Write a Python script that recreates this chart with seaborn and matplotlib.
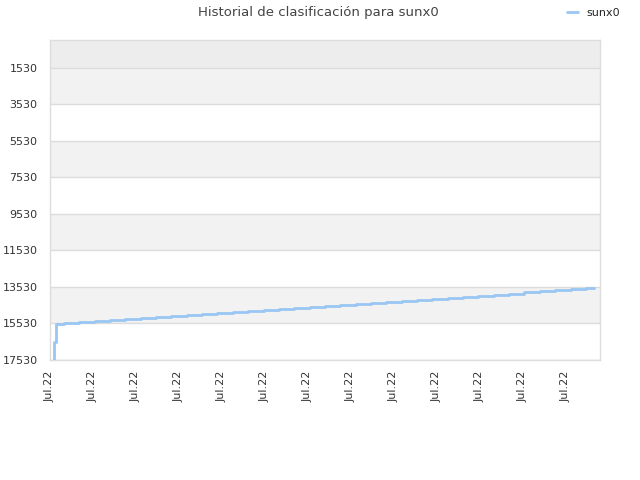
import numpy as np
import pandas as pd
import matplotlib
matplotlib.use("Agg")
import matplotlib.pyplot as plt
import seaborn as sns

# ---- data ----
title = "Historial de clasificación para sunx0"
series_name = "sunx0"
days = [-0.68, -0.62, -0.55, 0, 1, 2, 3, 4, 5, 6, 7, 8, 9, 10, 11, 12, 13, 14,
        15, 16, 17, 18, 19, 20, 21, 22, 23, 24, 25, 26, 27, 28, 29, 30, 31,
        32, 33, 34, 34.55]
ranks = [17530, 16570, 15560, 15504, 15449, 15393, 15337, 15281, 15226, 15170,
         15114, 15058, 15003, 14947, 14891, 14835, 14780, 14724, 14668, 14612,
         14557, 14501, 14445, 14389, 14334, 14278, 14222, 14166, 14111, 14055,
         13999, 13943, 13888, 13832, 13776, 13720, 13665, 13609, 13609]
y_ticks = [1530, 3530, 5530, 7530, 9530, 11530, 13530, 15530, 17530]
x_tick_label = "Jul.22"
n_x_ticks = 13

df = pd.DataFrame({"day": days, "rank": ranks, "name": series_name})

sns.set_theme(style="white")
plt.rcParams['font.family'] = ['DejaVu Sans']

fig = plt.figure(figsize=(6.4, 4.8), dpi=100)
ax = fig.add_axes([50/640, 1 - 360/480, 550/640, 320/480])

# alternating bands
ax.axhspan(0, y_ticks[0], color="#ededed", lw=0, zorder=0)
for i in range(len(y_ticks) - 1):
    c = "#f2f2f2" if i % 2 == 0 else "#ffffff"
    ax.axhspan(y_ticks[i], y_ticks[i + 1], color=c, lw=0, zorder=0)
for t in y_ticks:
    ax.axhline(t, color="#dcdcdc", lw=1, zorder=1)

sns.lineplot(data=df, x="day", y="rank", ax=ax, color="#99c6f2", lw=2,
             drawstyle="steps-post", estimator=None, sort=False, legend=False,
             zorder=3)

ax.set_ylim(17530, 0)
x0, x1 = -0.912, 34.92
ax.set_xlim(x0, x1)
step = (x1 - x0) * 43 / 550
xt = [x0 + step * k for k in range(n_x_ticks)]
ax.set_xticks(xt)
ax.set_xticklabels([x_tick_label] * n_x_ticks, rotation=90, fontsize=8, color="#333333")
ax.set_yticks(y_ticks)
ax.set_yticklabels([str(v) for v in y_ticks], fontsize=8, color="#333333")
ax.tick_params(axis="both", length=0)
ax.tick_params(axis="y", pad=9)
ax.tick_params(axis="x", pad=8)
ax.set_xlabel("")
ax.set_ylabel("")
for s in ax.spines.values():
    s.set_color("#dddddd")
    s.set_linewidth(1)

fig.text(0.497, 0.973, title, ha="center", va="center", fontsize=9.5, color="#444444")

from matplotlib.lines import Line2D
h = [Line2D([0], [0], color="#99c6f2", lw=2)]
fig.legend(h, [series_name], loc="center right", bbox_to_anchor=(0.985, 0.973),
           frameon=False, fontsize=8, handlelength=1.0, handletextpad=0.8)

fig.savefig("out.png", dpi=100)
